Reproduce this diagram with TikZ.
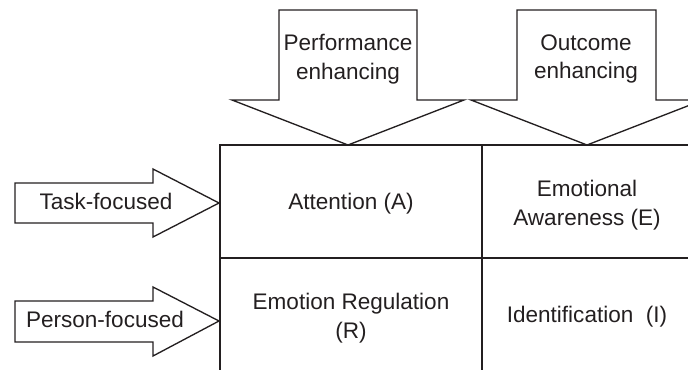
\documentclass[tikz,border=0pt]{standalone}
\usepackage{fontspec}
\setmainfont{Liberation Sans}
\usetikzlibrary{positioning}
\definecolor{ink}{HTML}{231F20}

\begin{document}
\begin{tikzpicture}[x=0.75pt, y=-0.75pt,
    blockarrow/.style={draw=ink, line width=1pt, line join=miter},
    gridline/.style={draw=ink, line width=1.8pt},
    celltext/.style={text=ink, font=\fontsize{16.9}{21.5}\selectfont, align=center, inner sep=0pt}]
    \useasboundingbox (0,0) rectangle (688,370);
    \clip (0,0) rectangle (688,370);
    % Setas de cima
    \draw[blockarrow] (279,10) -- (417,10) -- (417,100) -- (464,100) -- (348,145) -- (232,100) -- (279,100) -- cycle;
    \draw[blockarrow] (517,10) -- (656,10) -- (656,100) -- (703,100) -- (587,145) -- (471,100) -- (517,100) -- cycle;
    % Setas da esquerda
    \draw[blockarrow] (15,183) -- (153,183) -- (153,169) -- (219,203) -- (153,237) -- (153,223) -- (15,223) -- cycle;
    \draw[blockarrow] (15,301) -- (153,301) -- (153,287) -- (219,321) -- (153,356) -- (153,342) -- (15,342) -- cycle;
    % Grade
    \draw[gridline] (220,372) -- (220,145) -- (690,145);
    \draw[gridline] (482,145) -- (482,372);
    \draw[gridline] (220,258) -- (690,258);
    % Textos
    \node[celltext] (perf) at (348,59) {Performance\\enhancing};
    \node[celltext] (outc) at (586,59) {Outcome\\enhancing};
    \node[celltext] (task) at (106,201) {Task-focused};
    \node[celltext] (pers) at (105,319) {Person-focused};
    \node[celltext] (attn) at (351,204) {Attention (A)};
    \node[celltext] (aware) at (587,205) {Emotional\\Awareness (E)};
    \node[celltext] (regul) at (351,318) {Emotion Regulation\\(R)};
    \node[celltext] (ident) at (587,317) {Identification\ \ (I)};
\end{tikzpicture}
\end{document}
